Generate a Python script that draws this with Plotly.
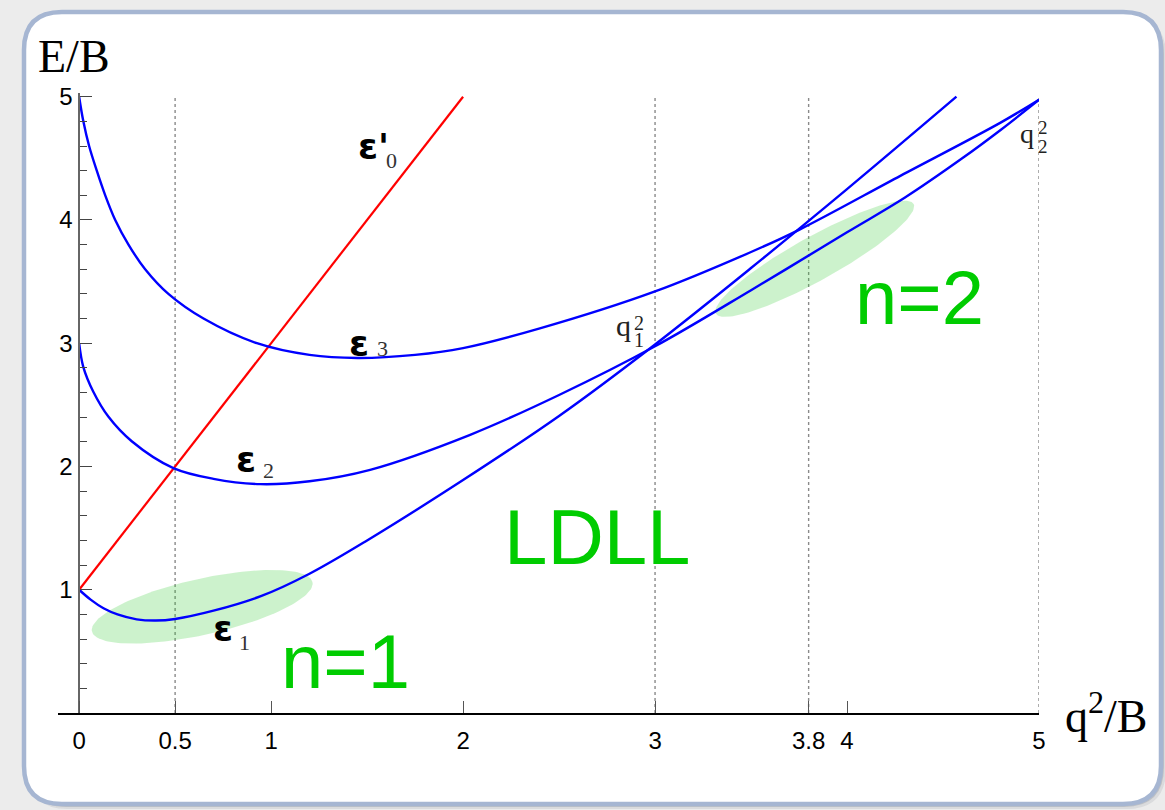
import numpy as np
import plotly.graph_objects as go

# ---- dispersion branches, E/B against q^2/B ----
q_e1 = [0, 0.06, 0.127, 0.2, 0.3, 0.4, 0.5, 0.7, 0.95, 1.2, 1.5, 2.0, 2.5, 3.0, 3.5, 4.0, 4.57]
E_e1 = [1.0, 0.92, 0.85, 0.80, 0.76, 0.75, 0.763, 0.83, 0.95, 1.13, 1.40, 1.89, 2.41, 2.99, 3.61, 4.25, 5.0]

q_e2 = [0, 0.022, 0.074, 0.152, 0.274, 0.491, 0.7, 0.943, 1.2, 1.516, 2.037, 2.5, 3.0, 3.5, 4.0, 4.3, 4.6, 4.8, 5.0]
E_e2 = [3.0, 2.806, 2.606, 2.405, 2.205, 1.987, 1.90, 1.857, 1.88, 1.973, 2.257, 2.58, 2.975, 3.43, 3.90,
        4.18, 4.50, 4.73, 4.975]

q_e3 = [0, 0.022, 0.052, 0.092, 0.136, 0.188, 0.257, 0.344, 0.465, 0.648, 0.926, 1.2, 1.45, 1.75,
        2.0, 2.4, 3.0, 3.5, 3.75, 4.28, 4.8, 5.0]
E_e3 = [5.0, 4.8, 4.6, 4.4, 4.2, 4.0, 3.8, 3.6, 3.4, 3.2, 3.0, 2.905, 2.88, 2.905,
        2.96, 3.12, 3.42, 3.74, 3.92, 4.36, 4.79, 4.975]

q_e0 = [0, 2]
E_e0 = [1, 5]

# marked positions on the q^2/B axis
x_ticks = [0, 0.5, 1, 2, 3, 3.8, 4, 5]
x_tick_text = ["0", "0.5", "1", "2", "3", "3.8", "4", "5"]
guide_q = [0.5, 3, 3.8, 5]
y_ticks = [1, 2, 3, 4, 5]
y_tick_text = ["1", "2", "3", "4", "5"]

# ---- geometry ----
W, H = 1165, 810
ML, MR, MT, MB = 58, 126, 93, 97
PW, PH = W - ML - MR, H - MT - MB
XR = [-0.11, 5.0]
YR = [0.0, 5.03]
SX = PW / (XR[1] - XR[0])
SY = PH / (YR[1] - YR[0])

BLUE = "#0000ff"
RED = "#ff0000"
GREEN = "#00cc00"
SERIF = "Liberation Serif"
SANS = "Liberation Sans"
GREEK = "DejaVu Sans"


def paper(px, py):
    return (px - ML) / PW, (H - MB - py) / PH


def rounded_rect(x0, y0, x1, y1, r):
    pts = [
        ("M", [(x0 + r, y0)]), ("L", [(x1 - r, y0)]), ("Q", [(x1, y0), (x1, y0 + r)]),
        ("L", [(x1, y1 - r)]), ("Q", [(x1, y1), (x1 - r, y1)]),
        ("L", [(x0 + r, y1)]), ("Q", [(x0, y1), (x0, y1 - r)]),
        ("L", [(x0, y0 + r)]), ("Q", [(x0, y0), (x0 + r, y0)]),
    ]
    out = []
    for cmd, ps in pts:
        coords = " ".join("%.5f,%.5f" % paper(px, py) for px, py in ps)
        out.append(cmd + " " + coords)
    return " ".join(out) + " Z"


fig = go.Figure()

# highlighted regions around the n=1 and n=2 branches
blobs = [  # (q centre, E centre, half length px, half width px, tilt deg)
    (0.641, 0.862, 113, 28, 12.6),
    (3.832, 3.685, 113, 22, 29.0),
]
t = np.linspace(0, 2 * np.pi, 160)
for qc, ec, a, b, ang in blobs:
    th = np.radians(ang)
    dx = a * np.cos(t) * np.cos(th) - b * np.sin(t) * np.sin(th)
    dy = a * np.cos(t) * np.sin(th) + b * np.sin(t) * np.cos(th)
    fig.add_trace(go.Scatter(x=qc + dx / SX, y=ec + dy / SY, mode="lines", fill="toself",
                             fillcolor="rgba(40,200,40,0.24)", line=dict(width=0),
                             hoverinfo="skip", showlegend=False))

fig.add_trace(go.Scatter(x=q_e0, y=E_e0, mode="lines", line=dict(color=RED, width=2.2), showlegend=False))
for qs, es in [(q_e1, E_e1), (q_e2, E_e2), (q_e3, E_e3)]:
    fig.add_trace(go.Scatter(x=qs, y=es, mode="lines",
                             line=dict(color=BLUE, width=2.4, shape="spline", smoothing=1.0),
                             showlegend=False))

shapes = []
# panel shadow and frame
shapes.append(dict(type="path", xref="paper", yref="paper", layer="below",
                   path=rounded_rect(28, 16, 1166, 809, 40), fillcolor="rgba(60,70,90,0.10)", line=dict(width=0)))
shapes.append(dict(type="path", xref="paper", yref="paper", layer="below",
                   path=rounded_rect(26, 14, 1164, 807, 40), fillcolor="rgba(60,70,90,0.18)", line=dict(width=0)))
shapes.append(dict(type="path", xref="paper", yref="paper", layer="below",
                   path=rounded_rect(24, 12, 1161, 804, 38), fillcolor="white",
                   line=dict(color="#a6b6d2", width=4.5)))
for gq in guide_q:
    shapes.append(dict(type="line", xref="x", yref="y", x0=gq, x1=gq, y0=0, y1=5, layer="below",
                       line=dict(color="#8a8a8a", width=1.4, dash="3px,3px")))

ann = []


def label(x, y, text, size, family, color="black", xref="x", yref="y", xshift=0, weight="normal"):
    ann.append(dict(x=x, y=y, xref=xref, yref=yref, text=text, showarrow=False, xanchor="center",
                    yanchor="middle", xshift=xshift, borderpad=0,
                    font=dict(size=size, family=family, color=color, weight=weight)))


# axis titles
label(*paper(74, 56), "E/B", 46, SERIF, xref="paper", yref="paper")
label(*paper(1106, 713), "q<sup>2</sup>/B", 46, SERIF, xref="paper", yref="paper")

# branch names
label(1.531, 4.593, "ε'", 36, GREEK, weight="bold")
label(1.625, 4.485, "0", 22, SERIF, "#333")
label(1.456, 3.00, "ε", 36, GREEK, weight="bold")
label(1.578, 2.955, "3", 22, SERIF, "#333")
label(0.870, 2.054, "ε", 36, GREEK, weight="bold")
label(0.989, 1.969, "2", 22, SERIF, "#333")
label(0.747, 0.683, "ε", 36, GREEK, weight="bold")
label(0.862, 0.574, "1", 22, SERIF, "#333")

# crossing momenta
label(2.836, 3.142, "q", 30, SERIF, "#222")
label(2.918, 3.161, "2", 20, SERIF, "#222")
label(2.915, 3.024, "1", 20, SERIF, "#222")
label(4.94, 4.702, "q", 28, SERIF, "#222")
label(5.0, 4.751, "2", 19, SERIF, "#222", xshift=4)
label(5.0, 4.597, "2", 19, SERIF, "#222", xshift=4)

# regions
label(2.698, 1.43, "LDLL", 78, SANS, GREEN)
label(1.39, 0.416, "n=1", 76, SANS, GREEN)
label(4.38, 3.372, "n=2", 76, SANS, GREEN)

fig.update_layout(
    width=W, height=H, autosize=False,
    margin=dict(l=ML, r=MR, t=MT, b=MB),
    paper_bgcolor="#ececec", plot_bgcolor="rgba(0,0,0,0)",
    shapes=shapes, annotations=ann, showlegend=False,
    xaxis=dict(range=XR, showgrid=False, zeroline=False, showline=True, linecolor="black", linewidth=1.6,
               ticks="inside", ticklen=12, tickwidth=1.2, tickcolor="#555",
               tickvals=x_ticks, ticktext=x_tick_text, ticklabelstandoff=5,
               tickfont=dict(family=SANS, size=24, color="black")),
    yaxis=dict(range=YR, showgrid=False, zeroline=False, showline=True, linecolor="#666", linewidth=1.5,
               anchor="free", position=(0 - XR[0]) / (XR[1] - XR[0]),
               ticks="inside", ticklen=12, tickwidth=1.2, tickcolor="#444",
               tickvals=y_ticks, ticktext=y_tick_text, ticklabelstandoff=1,
               minor=dict(tick0=0, dtick=0.2, ticks="inside", ticklen=7, tickwidth=1.1, tickcolor="#444"),
               tickfont=dict(family=SANS, size=24, color="black")),
)

fig.write_html("out.html")
